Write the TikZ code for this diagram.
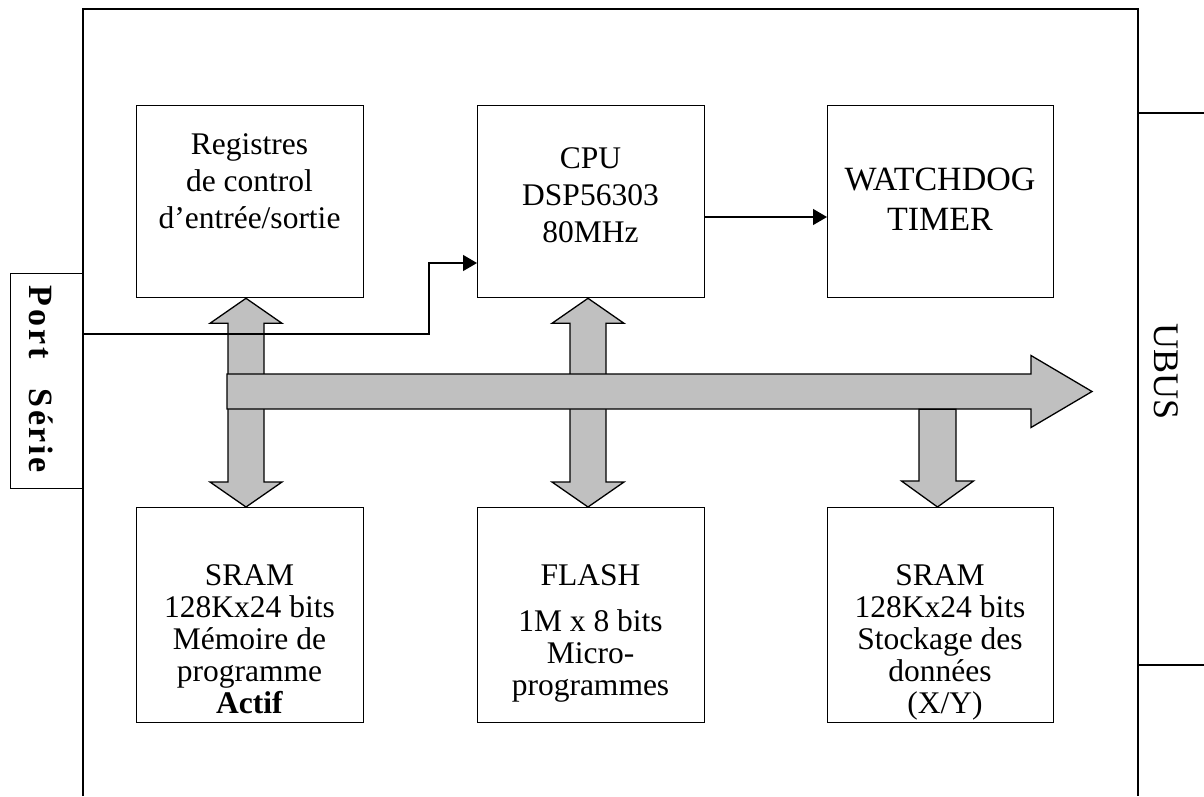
\documentclass[tikz,border=0pt]{standalone}
\usepackage{fontspec}
\setmainfont{Liberation Serif}
\usetikzlibrary{calc,arrows.meta}
\definecolor{busgray}{HTML}{C0C0C0}
% vertical two-headed bus arrow: shaft axis, upper anchor, lower anchor
\newcommand\vdbl[3]{%
  \draw[bus] (#1 |- #2) -- ++(36,25) -- ++(-18,0) -- ($(#1 |- #3)+(18,-25)$)
    -- ++(18,0) -- (#1 |- #3) -- ++(-36,-25) -- ++(18,0)
    -- ($(#1 |- #2)+(-18,25)$) -- ++(-18,0) -- cycle;}
\begin{document}
\begin{tikzpicture}[x=1pt,y=-1pt,
  frame/.style={draw=black,line width=2pt,line join=miter},
  blk/.style={draw=black,line width=1.3pt,rectangle,minimum width=227pt,
    anchor=north west,inner sep=0pt},
  txt/.style={align=center,inner sep=0pt,anchor=north,
    font=\fontsize{31.5}{37}\selectfont},
  lowtxt/.style={txt,font=\fontsize{31.5}{32}\selectfont},
  bus/.style={draw=black,line width=1.3pt,fill=busgray,line join=miter},
  sig/.style={draw=black,line width=1.3pt,-{Triangle[length=14pt,width=16pt]}},
]
\useasboundingbox (0,0) rectangle (1204,796);

% board outline and UBUS connector edge
\draw[frame] (83,796) -- (83,9) -- (1138,9) -- (1138,796);
\draw[line width=1.3pt] (1138,113) -- (1204,113);
\draw[line width=1.3pt] (1138,665) -- (1204,665);
\node[rotate=-90,anchor=base,inner sep=0pt,font=\fontsize{36}{42}\selectfont]
  (ubus) at (1154,372) {UBUS};

% serial port
\node[draw,line width=1.3pt,minimum width=72pt,minimum height=215pt,
  anchor=north west,inner sep=0pt] (port) at (10,273) {};
\node[rotate=-90,anchor=base,inner sep=0pt,
  font=\fontsize{34}{40}\selectfont\bfseries] (porttxt) at (29,379)
  {P\kern3pt o\kern3pt r\kern3pt t\kern30pt S\kern2.5pt é\kern2.5pt r\kern2.5pt i\kern2.5pt e};

% functional blocks
\node[blk,minimum height=192pt] (regs) at (136,105) {};
\node[blk,minimum height=192pt] (cpu) at (477,105) {};
\node[blk,minimum width=226pt,minimum height=192pt] (wdog) at (827,105) {};
\node[blk,minimum height=215pt] (sramP) at (136,507) {};
\node[blk,minimum height=215pt] (flash) at (477,507) {};
\node[blk,minimum width=226pt,minimum height=215pt] (sramD) at (827,507) {};

\node[txt] (regsT) at (249.5,133) {Registres\\de control\\d’entrée/sortie};
\node[txt] (cpuT) at (590.5,147) {CPU\\DSP56303\\80MHz};
\node[txt,font=\fontsize{34}{40}\selectfont] (wdogT) at (940,168) {WATCHDOG\\TIMER};

\node[lowtxt] (sramPT) at (249.5,564)
  {SRAM\\128Kx24 bits\\Mémoire de\\programme\\\textbf{Actif}};
\node[lowtxt] (flashT) at (590.5,564)
  {FLASH\\[14pt]1M x 8 bits\\Micro-\\programmes};
\node[lowtxt] (sramDT) at (940,564)
  {SRAM\\128Kx24 bits\\Stockage des\\données\\\hspace*{10pt}(X/Y)};

% bus
\coordinate (ax1) at (246,0);
\coordinate (ax2) at (588,0);
\coordinate (ax3) at (937.5,409.25);
\coordinate (busL) at (227,391.5);
\coordinate (busR) at (1092,391.5);

\vdbl{ax1}{regs.south}{sramP.north}
\vdbl{ax2}{cpu.south}{flash.north}

\draw[bus] ($(busL)+(0,-17.5)$) -- ($(busR)+(-61,-17.5)$) -- ($(busR)+(-61,-36)$)
  -- (busR) -- ($(busR)+(-61,36)$) -- ($(busR)+(-61,17.5)$)
  -- ($(busL)+(0,17.5)$) -- cycle;

\draw[bus] ($(ax3)+(-18.5,0)$) -- ($(ax3 |- sramD.north)+(-18.5,-26)$) -- ++(-17.5,0)
  -- (ax3 |- sramD.north) -- ++(36,-26) -- ++(-17.5,0) -- ($(ax3)+(18.5,0)$) -- cycle;

% control signals
\coordinate (ser) at (83,334);
\coordinate (bend) at (429,263);
\coordinate (wd) at (704,217);
\draw[sig] (ser) -| (bend) -- (bend -| cpu.west);
\draw[sig] (cpu.east |- wd) -- (wdog.west |- wd);
\end{tikzpicture}
\end{document}
